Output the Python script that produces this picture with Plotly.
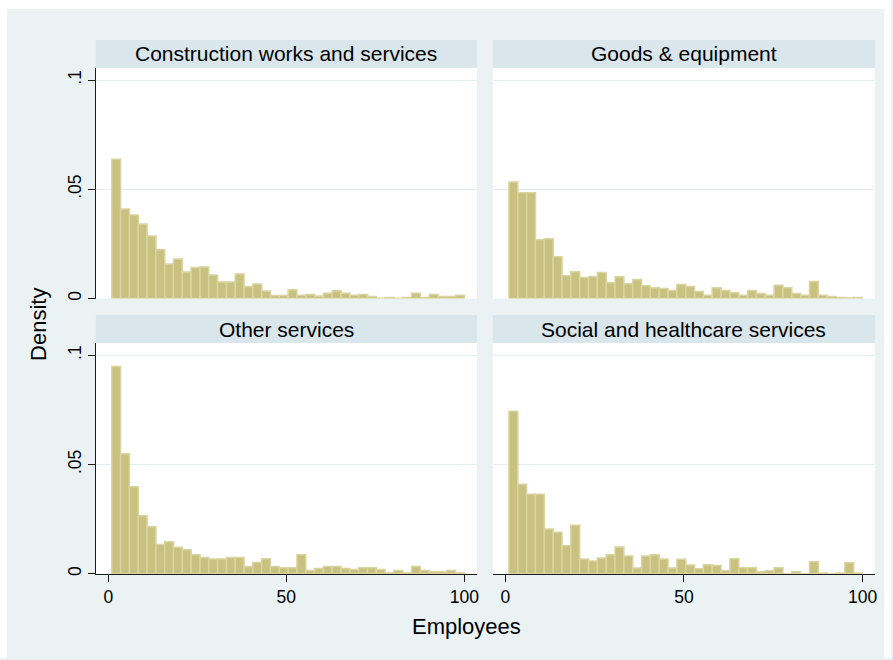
import plotly.graph_objects as go

# Histogram bins: 40 equal-width bins over 1..100 employees
BIN_LO, BIN_HI, N_BINS = 1, 100, 40

panel_titles = [
    "Construction works and services",
    "Goods & equipment",
    "Other services",
    "Social and healthcare services",
]

# Density per bin, one list per procurement type
construction = [0.0638, 0.0410, 0.0382, 0.0341, 0.0286, 0.0224, 0.0158, 0.0181, 0.0122, 0.0142,
                0.0145, 0.0108, 0.0076, 0.0076, 0.0113, 0.0055, 0.0067, 0.0035, 0.0014, 0.0014,
                0.0040, 0.0015, 0.0019, 0.0012, 0.0024, 0.0036, 0.0024, 0.0015, 0.0019, 0.0009,
                0.0002, 0.0005, 0.0002, 0.0005, 0.0024, 0.0005, 0.0019, 0.0009, 0.0009, 0.0015]
goods = [0.0534, 0.0484, 0.0484, 0.0269, 0.0274, 0.0192, 0.0105, 0.0123, 0.0096, 0.0100,
         0.0119, 0.0073, 0.0100, 0.0068, 0.0087, 0.0059, 0.0050, 0.0046, 0.0037, 0.0064,
         0.0055, 0.0032, 0.0015, 0.0050, 0.0037, 0.0027, 0.0015, 0.0037, 0.0023, 0.0015,
         0.0061, 0.0050, 0.0023, 0.0015, 0.0078, 0.0015, 0.0009, 0.0005, 0.0003, 0.0005]
other = [0.0948, 0.0549, 0.0398, 0.0265, 0.0215, 0.0134, 0.0147, 0.0121, 0.0110, 0.0087,
         0.0074, 0.0067, 0.0067, 0.0074, 0.0074, 0.0033, 0.0051, 0.0069, 0.0033, 0.0028,
         0.0028, 0.0087, 0.0015, 0.0024, 0.0033, 0.0033, 0.0024, 0.0019, 0.0028, 0.0028,
         0.0019, 0.0005, 0.0015, 0.0005, 0.0033, 0.0015, 0.0009, 0.0009, 0.0015, 0.0005]
social = [0.0743, 0.0410, 0.0364, 0.0364, 0.0205, 0.0190, 0.0128, 0.0222, 0.0067, 0.0058,
          0.0072, 0.0087, 0.0122, 0.0081, 0.0026, 0.0081, 0.0087, 0.0067, 0.0026, 0.0066,
          0.0040, 0.0023, 0.0041, 0.0038, 0.0014, 0.0069, 0.0028, 0.0028, 0.0009, 0.0014,
          0.0028, 0.0000, 0.0009, 0.0000, 0.0055, 0.0003, 0.0000, 0.0003, 0.0050, 0.0003]

x_tick_vals = [0, 50, 100]
y_tick_vals = [0, 0.05, 0.1]
y_tick_text = ["0", ".05", ".1"]
x_title = "Employees"
y_title = "Density"

# ---- styling ----
W, H = 893, 660
BG = "#EAF2F3"
STRIP = "#D9E6EB"
GRID = "#E6EEF0"
BAR_FILL = "rgb(201,193,127)"
BAR_EDGE = "rgb(218,212,160)"
AXIS = "#1a1a1a"
FONT = "Liberation Sans, Arial, sans-serif"

bin_w = (BIN_HI - BIN_LO) / N_BINS
centers = [BIN_LO + (i + 0.5) * bin_w for i in range(N_BINS)]

# panel boxes in pixels: left, right, top, bottom
boxes = [(96, 478, 68, 299.5), (494, 877, 68, 299.5),
         (96, 478, 344, 575.5), (494, 877, 344, 575.5)]
STRIP_H = 28
series = [construction, goods, other, social]

fig = go.Figure()
layout = dict(
    width=W, height=H,
    margin=dict(l=0, r=0, t=0, b=0),
    paper_bgcolor=BG,
    plot_bgcolor="white",
    showlegend=False,
    font=dict(family=FONT, color="black"),
    shapes=[], annotations=[],
)

def px_x(v):
    return v / W

def px_y(v):
    return 1 - v / H

for i, (vals, (l, r, t, b)) in enumerate(zip(series, boxes)):
    n = "" if i == 0 else str(i + 1)
    xa, ya = "x" + n, "y" + n
    fig.add_trace(go.Bar(
        x=centers, y=vals, width=bin_w,
        marker=dict(color=BAR_FILL, line=dict(color=BAR_EDGE, width=1.5)),
        xaxis=xa, yaxis=ya, hoverinfo="skip",
    ))
    bottom_row = i >= 2
    left_col = i % 2 == 0
    layout["xaxis" + n] = dict(
        domain=[px_x(l), px_x(r)], anchor=ya, range=[-3.5, 103.5],
        showgrid=False, zeroline=False,
        showline=bottom_row, linecolor=AXIS, linewidth=1,
        ticks="outside" if bottom_row else "", ticklen=7, tickcolor=AXIS,
        tickvals=x_tick_vals, showticklabels=bottom_row,
        tickfont=dict(size=17.5, family=FONT, color="black"),
    )
    layout["yaxis" + n] = dict(
        domain=[px_y(b), px_y(t)], anchor=xa, range=[0, 0.1056],
        showgrid=True, gridcolor=GRID, gridwidth=1, zeroline=False,
        showline=left_col, linecolor=AXIS, linewidth=1,
        ticks="outside" if left_col else "", ticklen=7, tickcolor=AXIS,
        tickvals=y_tick_vals, ticktext=y_tick_text, showticklabels=left_col,
        tickangle=-90,
        tickfont=dict(size=17.5, family=FONT, color="black"),
    )
    # title strip above each panel
    layout["shapes"].append(dict(
        type="rect", xref="paper", yref="paper",
        x0=px_x(l), x1=px_x(r), y0=px_y(t), y1=px_y(t - STRIP_H),
        fillcolor=STRIP, line=dict(width=0), layer="above",
    ))
    layout["annotations"].append(dict(
        text=panel_titles[i], xref="paper", yref="paper",
        x=px_x((l + r) / 2), y=px_y(t - STRIP_H / 2),
        xanchor="center", yanchor="middle", showarrow=False,
        font=dict(size=21, family=FONT, color="black"),
    ))

# white border around the graph region
for x0, x1, y0, y1 in [(0, W, 0, 9), (0, 7, 0, H), (886, W, 0, H)]:
    layout["shapes"].append(dict(
        type="rect", xref="paper", yref="paper",
        x0=px_x(x0), x1=px_x(x1), y0=px_y(y1), y1=px_y(y0),
        fillcolor="white", line=dict(width=0), layer="above",
    ))

layout["annotations"].append(dict(
    text=x_title, xref="paper", yref="paper", x=px_x(468), y=px_y(628),
    xanchor="center", yanchor="middle", showarrow=False,
    font=dict(size=22, family=FONT, color="black"),
))
layout["annotations"].append(dict(
    text=y_title, xref="paper", yref="paper", x=px_x(38), y=px_y(325),
    xanchor="center", yanchor="middle", showarrow=False, textangle=-90,
    font=dict(size=22, family=FONT, color="black"),
))

fig.update_layout(**layout)
fig.write_html("out.html")
